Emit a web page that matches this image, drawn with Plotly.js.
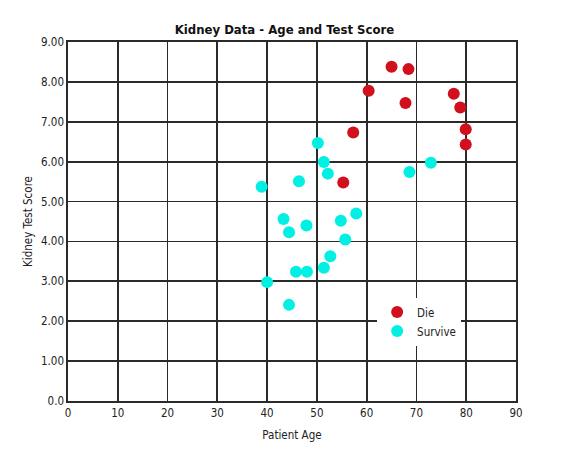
<!DOCTYPE html>
<html>
<head>
<meta charset="utf-8">
<script src="https://cdn.plot.ly/plotly-3.0.1.min.js"></script>
<style>
  html, body { margin: 0; padding: 0; background: #fff; }
  #chart { width: 569px; height: 471px; }
</style>
</head>
<body>
<div id="chart"></div>
<script>
// patients who died
const dieAge = [55.3, 65.0, 68.4, 60.4, 67.8, 77.5, 78.8, 57.3, 79.9, 79.9];
const dieScore = [5.48, 8.38, 8.32, 7.78, 7.47, 7.70, 7.36, 6.73, 6.81, 6.43];

// patients who survived
const surviveAge = [50.2, 51.4, 52.2, 46.4, 38.9, 68.6, 72.9, 57.9, 54.8, 43.3,
  47.9, 44.4, 55.7, 52.7, 51.4, 45.8, 48.0, 40.0, 44.4];
const surviveScore = [6.47, 5.99, 5.70, 5.51, 5.37, 5.74, 5.97, 4.70, 4.52, 4.56,
  4.40, 4.23, 4.05, 3.63, 3.34, 3.24, 3.24, 2.98, 2.41];

const xTicks = [0, 10, 20, 30, 40, 50, 60, 70, 80, 90];
const yTicks = [0, 1, 2, 3, 4, 5, 6, 7, 8, 9];
const yTickText = ['0.0', '1.00', '2.00', '3.00', '4.00', '5.00', '6.00', '7.00', '8.00', '9.00'];

const font = '"DejaVu Sans Condensed", "Liberation Sans Narrow", sans-serif';

const die = {
  x: dieAge,
  y: dieScore,
  mode: 'markers',
  type: 'scatter',
  name: 'Die',
  marker: { color: '#d0101c', size: 12 }
};

const survive = {
  x: surviveAge,
  y: surviveScore,
  mode: 'markers',
  type: 'scatter',
  name: 'Survive',
  marker: { color: '#00f0e4', size: 12 }
};

const layout = {
  width: 569,
  height: 471,
  margin: { l: 68, r: 53, t: 42, b: 70 },
  paper_bgcolor: '#fff',
  plot_bgcolor: '#fff',
  font: { family: font, size: 11, color: '#222' },
  title: {
    text: '<b>Kidney Data - Age and Test Score</b>',
    font: { family: font, size: 13, color: '#111' },
    x: 0.5,
    xanchor: 'center',
    y: 0.938,
    yanchor: 'middle'
  },
  xaxis: {
    range: [0, 90],
    tickvals: xTicks,
    ticktext: xTicks.map(String),
    showgrid: true,
    gridcolor: '#2a2a2a',
    gridwidth: 1.7,
    zeroline: false,
    showline: true,
    linecolor: '#2a2a2a',
    linewidth: 1.7,
    mirror: true,
    ticks: '',
    tickfont: { family: font, size: 11.5, color: '#222' },
    title: { text: 'Patient Age', font: { family: font, size: 11.5, color: '#222' }, standoff: 12 }
  },
  yaxis: {
    range: [0, 9],
    tickvals: yTicks,
    ticktext: yTickText,
    showgrid: true,
    gridcolor: '#2a2a2a',
    gridwidth: 1.7,
    zeroline: false,
    showline: true,
    linecolor: '#2a2a2a',
    linewidth: 1.7,
    mirror: true,
    ticks: '',
    tickfont: { family: font, size: 11.5, color: '#222' },
    title: { text: 'Kidney Test Score', font: { family: font, size: 11.5, color: '#222' }, standoff: 6 }
  },
  legend: {
    x: 0.69,
    y: 0.288,
    xanchor: 'left',
    yanchor: 'top',
    bgcolor: '#fff',
    borderwidth: 0,
    font: { family: font, size: 11.5, color: '#222' },
    itemwidth: 30,
    tracegroupgap: 0
  },
  showlegend: true
};

Plotly.newPlot('chart', [die, survive], layout, { displayModeBar: false, staticPlot: true });
</script>
</body>
</html>
